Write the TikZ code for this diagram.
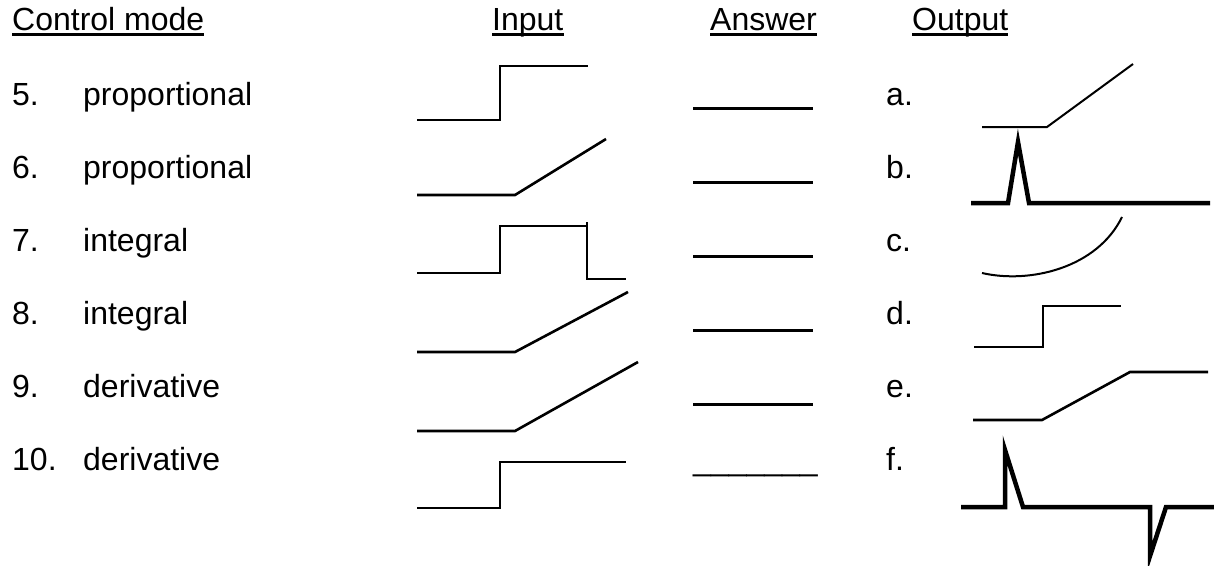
\documentclass[tikz,border=0pt]{standalone}
\usepackage{fontspec}
\setmainfont{Liberation Sans}
\begin{document}
\begin{tikzpicture}[x=1pt,y=-1pt,
  txt/.style={anchor=base west,inner sep=0pt,font=\fontsize{32}{38}\selectfont},
  uline/.style={line width=2.2pt},
  insig/.style={line width=2.6pt},
  thinsig/.style={line width=2pt},
  thicksig/.style={line width=4.5pt},
  ansline/.style={line width=3pt}]
\useasboundingbox (0,0) rectangle (1214,565);
% headers
\node[txt] (hcm) at (12,30) {Control mode};
\node[txt] (hin) at (492,30) {Input};
\node[txt] (han) at (710,30) {Answer};
\node[txt] (hout) at (912,30) {Output};
\foreach \h in {hcm,hin,han,hout}{
  \draw[uline] ([yshift=-4.5pt]\h.base west) -- ([yshift=-4.5pt]\h.base east);
}
% rows
\node[txt] (n5) at (12,105) {5.};
\node[txt] (m5) at (83,105) {proportional};
\node[txt] (n6) at (12,178) {6.};
\node[txt] (m6) at (83,178) {proportional};
\node[txt] (n7) at (12,251) {7.};
\node[txt] (m7) at (83,251) {integral};
\node[txt] (n8) at (12,324) {8.};
\node[txt] (m8) at (83,324) {integral};
\node[txt] (n9) at (12,397) {9.};
\node[txt] (m9) at (83,397) {derivative};
\node[txt] (n10) at (12,470) {10.};
\node[txt] (m10) at (83,470) {derivative};
% output labels
\node[txt] (la) at (886,105) {a.};
\node[txt] (lb) at (886,178) {b.};
\node[txt] (lc) at (886,251) {c.};
\node[txt] (ld) at (886,324) {d.};
\node[txt] (le) at (886,397) {e.};
\node[txt] (lf) at (886,470) {f.};
% answer blanks
\draw[ansline] (693,108) -- (813,108);
\draw[ansline] (693,182) -- (813,182);
\draw[ansline] (693,256) -- (813,256);
\draw[ansline] (693,330) -- (813,330);
\draw[ansline] (693,404) -- (813,404);
\node[txt] (a10) at (693,470) {\_\_\_\_\_\_\_};
% input signals
\draw[insig] (417,120) -- (500,120) -- (500,66) -- (588,66);
\draw[insig] (417,195) -- (515,195) -- (606,139);
\draw[insig] (417,273) -- (500,273) -- (500,226) -- (587,226);
\draw[insig] (587,222) -- (587,279) -- (626,279);
\draw[insig] (417,352) -- (515,352) -- (628,292);
\draw[insig] (417,431) -- (515,431) -- (638,362);
\draw[insig] (417,508) -- (500,508) -- (500,462) -- (626,462);
% output signals
\draw[thinsig] (982,127) -- (1047,127) -- (1133,64);
\draw[thicksig] (971,203) -- (1008,203) -- (1018,142) -- (1029,203) -- (1210,203);
\draw[thinsig] (982,273) .. controls (1030,284) and (1097,268) .. (1122,217);
\draw[insig] (974,347) -- (1043,347) -- (1043,306) -- (1121,306);
\draw[insig] (973,420) -- (1042,420) -- (1130,372) -- (1208,372);
\draw[thicksig] (961,507) -- (1005,507) -- (1005,450) -- (1023,507) -- (1150,507) -- (1150,556) -- (1166,507) -- (1214,507);
\end{tikzpicture}
\end{document}
